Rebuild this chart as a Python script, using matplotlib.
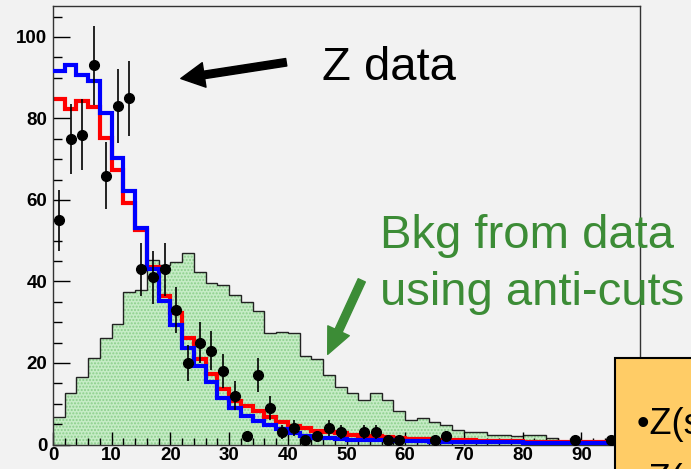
import numpy as np
import matplotlib.pyplot as plt
from matplotlib.patches import Rectangle
from matplotlib.ticker import MultipleLocator

# histogram binning: 50 bins of width 2 from 0 to 100
edges = np.arange(0, 101, 2)

# Z simulation (red) and Z expectation (blue), per bin
z_red = [84.8, 82.3, 84.4, 82.7, 75.1, 67.4, 59.3, 52.6, 43.6, 36.4,
         32.2, 26.1, 21.1, 17.3, 13.5, 10.7, 9.5, 8.2, 6.8, 5.6,
         4.6, 4.0, 3.3, 3.0, 2.8, 2.3, 2.1, 2.0, 1.8, 1.6,
         1.4, 1.3, 1.2, 1.1, 1.0, 1.0, 0.9, 0.9, 0.8, 0.8,
         0.7, 0.7, 0.6, 0.6, 0.5, 0.5, 0.5, 0.4, 0.4, 0.4]
z_blue = [91.7, 93.0, 90.7, 89.1, 81.3, 70.4, 62.3, 53.2, 43.0, 35.2,
          29.3, 23.6, 19.3, 15.3, 11.3, 8.9, 7.0, 5.8, 4.7, 3.9,
          2.7, 2.1, 1.7, 1.5, 1.3, 1.2, 1.1, 1.0, 1.0, 0.9,
          0.8, 0.8, 0.7, 0.7, 0.6, 0.6, 0.6, 0.5, 0.5, 0.5,
          0.4, 0.4, 0.4, 0.4, 0.3, 0.3, 0.3, 0.3, 0.3, 0.3]

# background from anti-cut sample (green)
bkg = [6.7, 12.6, 16.6, 21.3, 26.1, 29.6, 37.4, 37.9, 45.2, 44.0,
       44.9, 46.9, 42.4, 39.7, 39.1, 36.7, 35.0, 32.7, 27.4, 27.6,
       27.4, 21.7, 20.9, 17.1, 14.2, 12.7, 10.8, 12.6, 10.8, 8.1,
       6.0, 6.4, 5.4, 4.9, 3.6, 3.1, 3.1, 2.3, 2.3, 2.0,
       2.4, 2.4, 1.5, 0.6, 0.6, 0.3, 0.8, 0.8, 0.5, 0.5]

# Z data points (bin centres with non-zero counts)
data_x = [1, 3, 5, 7, 9, 11, 13, 15, 17, 19, 21, 23, 25, 27, 29, 31, 33,
          35, 37, 39, 41, 43, 45, 47, 49, 53, 55, 57, 59, 65, 67, 89, 95]
data_y = [55, 75, 76, 93, 66, 83, 85, 43, 41, 43, 33, 20, 25, 23, 18, 12, 2,
          17, 9, 3, 4, 1, 2, 4, 3, 3, 3, 1, 1, 1, 2, 1, 1]

xticks = [0, 10, 20, 30, 40, 50, 60, 70, 80, 90, 100]
yticks = [0, 20, 40, 60, 80, 100]

bg = '#f2f2f2'
green_txt = '#3c8c36'
font = 'Liberation Sans'

fig = plt.figure(figsize=(6.91, 4.69), dpi=100, facecolor=bg)
W, H = 691, 469
ax = fig.add_axes([53 / W, (H - 444.5) / H, (640 - 53) / W, (444.5 - 6) / H])
ax.set_facecolor(bg)

# background histogram: light green fill with dotted pattern, black outline
ax.stairs(bkg, edges, fill=True, facecolor='#c6ecc6', edgecolor='none', zorder=1)
ax.stairs(bkg, edges, fill=True, facecolor='none', edgecolor='#8ccf8c',
          hatch='.....', linewidth=0, zorder=1.1)
ax.stairs(bkg, edges, baseline=None, color='#222222', linewidth=1.0, zorder=1.2)

ax.stairs(z_red, edges, baseline=None, color='#ff0000', linewidth=3.0, zorder=2)
ax.stairs(z_blue, edges, baseline=None, color='#0000ff', linewidth=3.0, zorder=3)

ax.errorbar(data_x, data_y, yerr=np.sqrt(data_y), fmt='o', color='black',
            ms=7, elinewidth=1.2, capsize=0, zorder=4)

ax.set_xlim(0, 100)
ax.set_ylim(0, 107.6)
ax.set_xticks(xticks)
ax.set_yticks(yticks)
ax.xaxis.set_minor_locator(MultipleLocator(2))
ax.yaxis.set_minor_locator(MultipleLocator(5))
ax.tick_params(axis='y', which='major', direction='in', length=12, width=1, pad=4)
ax.tick_params(axis='y', which='minor', direction='in', length=6.5, width=1)
ax.tick_params(axis='x', which='major', direction='in', length=9.5, width=1, pad=2)
ax.tick_params(axis='x', which='minor', direction='in', length=5, width=1)
for lab in ax.get_xticklabels() + ax.get_yticklabels():
    lab.set_fontfamily(font)
    lab.set_fontweight('bold')
    lab.set_fontsize(13.5)
for s in ax.spines.values():
    s.set_color('#333333')
    s.set_linewidth(1.0)

# annotations
ax.annotate('', xy=(21.3, 89.7), xytext=(40.2, 93.9),
            arrowprops=dict(arrowstyle='simple,head_length=1.0,head_width=1.05,tail_width=0.32',
                            color='black', mutation_scale=17),
            annotation_clip=False, zorder=6)
ax.text(45.8, 89.5, 'Z data', fontsize=34, family=font, color='black',
        va='baseline', ha='left', zorder=6)

ax.annotate('', xy=(46.6, 21.5), xytext=(52.8, 40.9),
            arrowprops=dict(arrowstyle='simple,head_length=1.1,head_width=1.0,tail_width=0.33',
                            color=green_txt, mutation_scale=17),
            annotation_clip=False, zorder=6)
ax.text(55.7, 48.2, 'Bkg from data', fontsize=34, family=font, color=green_txt,
        va='baseline', ha='left', zorder=6, clip_on=False)
ax.text(55.7, 34.2, 'using anti-cuts', fontsize=34, family=font, color=green_txt,
        va='baseline', ha='left', zorder=6, clip_on=False)

# legend box in the lower right corner, running off the edge of the slide
box = Rectangle((615 / W, -0.05), 0.2, (H - 358) / H + 0.05, transform=fig.transFigure,
                facecolor='#ffcc66', edgecolor='black', linewidth=1.5, zorder=10)
fig.patches.append(box)
fig.text(637 / W, (H - 434) / H, '•Z(sig) MC', fontsize=26, family=font,
         va='baseline', ha='left', zorder=11)
fig.text(637 / W, (H - 490) / H, '•Z(data)', fontsize=26, family=font,
         va='baseline', ha='left', zorder=11)

fig.savefig('out.png', dpi=100, facecolor=bg)
